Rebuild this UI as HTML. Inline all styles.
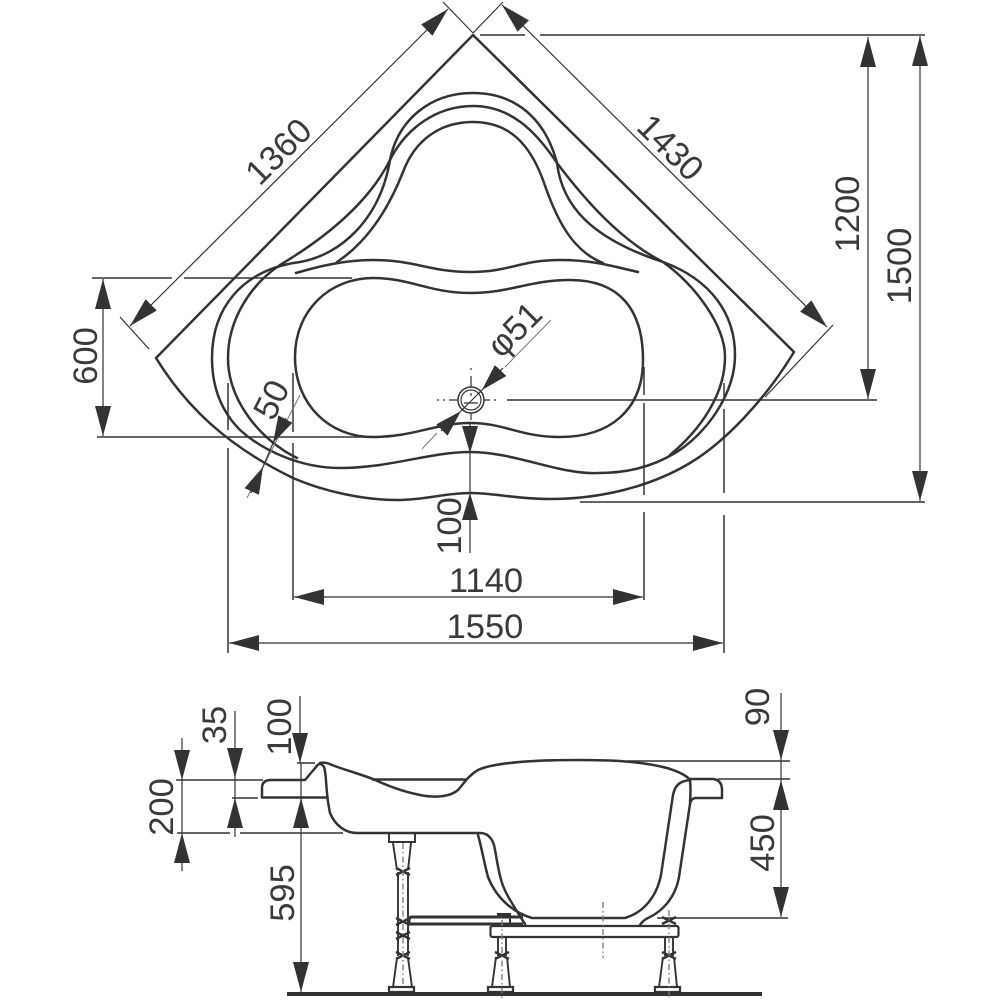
<!DOCTYPE html>
<html><head><meta charset="utf-8"><style>
html,body{margin:0;padding:0;background:#fff}
svg{display:block}
text{font-family:"Liberation Sans",sans-serif;font-size:34.5px;fill:#3a3a3a;text-anchor:middle;dominant-baseline:central}
.m{fill:none;stroke:#333;stroke-width:2.5;stroke-linecap:round;stroke-linejoin:round}
.d{fill:none;stroke:#333;stroke-width:1.2}
.e{fill:none;stroke:#333;stroke-width:1.5}
.l{fill:none;stroke:#333;stroke-width:1.9}
.x{fill:none;stroke:#333;stroke-width:2.4}
.t{fill:none;stroke:#777;stroke-width:1}
.c{fill:none;stroke:#777;stroke-width:1.3;stroke-dasharray:6 3 1.5 3}
</style></head><body>
<svg width="1000" height="1000" viewBox="0 0 1000 1000" xmlns="http://www.w3.org/2000/svg">
<defs>
<marker id="a" markerUnits="userSpaceOnUse" markerWidth="32" markerHeight="18" refX="30" refY="8" orient="auto-start-reverse"><path d="M0 0L30 8L0 16Z" fill="#333"/></marker>
<marker id="s" markerUnits="userSpaceOnUse" markerWidth="30" markerHeight="18" refX="27" refY="8" orient="auto-start-reverse"><path d="M0 0L27 8L0 16Z" fill="#333"/></marker>
</defs>

<!-- plan view -->
<path class="m" d="M156 358L473 35L794 352C765 400 725 442 690 463C650 487 600 499 550 499C515 499 495 493 470 493C445 493 425 500 397 500C365 500 325 492 293 478C225 445 185 405 156 358Z"/>
<path class="m" d="M390 160C398 120 430 93 473 93C515 93 545 118 557 163C562 205 590 238 663 262C712 280 735 315 735 355C735 395 705 435 675 453C650 468 625 473 598 473C560 475 515 452 470 452C430 452 390 468 340 468C300 468 262 450 240 430C220 410 212 385 212 358C212 310 240 270 300 262C340 255 380 220 390 160Z"/>
<path class="m" d="M297 458C260 440 228 400 228 358C228 320 250 285 280 265C330 235 370 200 390 160C405 130 435 106 473 106C510 106 535 130 557 163C585 200 620 240 663 262C695 285 725 325 725 357C725 395 700 430 670 455"/>
<path class="m" d="M337 262C370 240 390 205 403 172C415 140 440 122 473 122C510 122 530 145 543 180C555 215 570 250 603 263"/>
<path class="m" d="M296 273C320 266 345 260 373 260C415 260 430 272 470 272C510 272 520 260 560 260C595 260 615 267 638 272"/>
<path class="m" d="M470 293C430 293 410 278 373 278C330 278 295 310 295 357C295 405 330 437 372 437C415 437 435 423 470 423C505 423 520 437 560 437C610 437 643 410 643 360C643 310 620 280 570 280C530 280 510 293 470 293Z"/>

<!-- plan dimension lines -->
<path class="d" d="M443 2L473 33M503 2L473 33M120 317L149 349M765 397L833 325"/>
<line class="d" x1="448" y1="9" x2="130" y2="326" marker-start="url(#a)" marker-end="url(#a)"/>
<line class="d" x1="502" y1="5" x2="827" y2="327" marker-start="url(#a)" marker-end="url(#a)"/>
<path class="e" d="M480 35H525M540 35H925M507 400H877M580 502H925M92 278H172M184 278H352M97 437H365"/>
<path class="e" d="M228 383V430M228 448V653M293 373V432M293 443V600M644 367V395M644 403V495M644 512V600M724 383V400M724 409V493M724 515V653"/>
<line class="d" x1="868" y1="37" x2="868" y2="399" marker-start="url(#a)" marker-end="url(#a)"/>
<line class="d" x1="920" y1="36" x2="920" y2="501" marker-start="url(#a)" marker-end="url(#a)"/>
<line class="d" x1="103" y1="279" x2="103" y2="436" marker-start="url(#a)" marker-end="url(#a)"/>
<line class="d" x1="294" y1="597" x2="643" y2="597" marker-start="url(#a)" marker-end="url(#a)"/>
<line class="d" x1="229" y1="643" x2="723" y2="643" marker-start="url(#a)" marker-end="url(#a)"/>
<line class="d" x1="470" y1="423" x2="470" y2="453" marker-end="url(#s)"/>
<line class="d" x1="470" y1="553" x2="470" y2="493" marker-end="url(#s)"/>
<line class="d" x1="470" y1="453" x2="470" y2="493"/>
<!-- 50 -->
<line class="t" x1="300" y1="395" x2="247" y2="498"/>
<line class="d" x1="286" y1="418" x2="273" y2="443" marker-end="url(#s)"/>
<line class="d" x1="251" y1="493" x2="263" y2="467" marker-end="url(#s)"/>
<line class="d" x1="273" y1="443" x2="263" y2="467"/>
<!-- drain -->
<circle cx="471" cy="400" r="13" fill="none" stroke="#333" stroke-width="1.5"/>
<circle cx="471" cy="400" r="10" fill="none" stroke="#333" stroke-width="1.2"/>
<path class="d" d="M437 400H439M443 400H445M449 400H458M484 400H490M494 400H496M471 368V370M471 376V387M471 413V420M464 403H478M471 393V396"/>
<path class="t" d="M551 320L505 367M437 433L422 449"/>
<line class="d" x1="461" y1="411" x2="482" y2="390"/>
<line class="d" x1="503" y1="368" x2="482" y2="390" marker-end="url(#s)"/>
<line class="d" x1="441" y1="431" x2="461" y2="411" marker-end="url(#s)"/>

<text transform="translate(279 152) rotate(-45)">1360</text>
<text transform="translate(670 148) rotate(45)">1430</text>
<text transform="translate(848 214) rotate(-90)">1200</text>
<text transform="translate(900 266) rotate(-90)">1500</text>
<text transform="translate(86 356) rotate(-90)">600</text>
<text transform="translate(272 400) rotate(-63)">50</text>
<text transform="translate(515 330) rotate(-45)">φ51</text>
<text transform="translate(450 526) rotate(-90)">100</text>
<text x="486" y="581">1140</text>
<text x="485" y="627">1550</text>

<!-- side view -->
<path class="m" d="M320 763C324 762 328 763 332 765C345 770 360 774 373 779C390 787 405 792 420 795C435 798 450 797 458 790C465 782 468 776 478 770C495 762 540 760 577 760C610 760 640 761 667 768C680 772 687 776 690 780"/>
<path class="m" d="M373 779.5H465"/>
<path class="m" d="M327 797.5H262V788Q262 780 271 780H305L316 767Q320 761 324 767C327 775 325 790 330 813C335 825 345 833 357 833H480C490 833 494 842 495 850C497 860 498 870 502 883C506 895 515 908 525 924"/>
<path class="m" d="M690 780C680 781 675 785 673 795L661 875C657 895 645 912 625 918H532C515 913 497 900 488 877C484 862 481 845 478 835"/>
<path class="m" d="M690 779H713Q722 780 722 790V798H696Q691 798 690 804L679 877C675 900 660 912 650 917Q643 920 640 925"/>
<path class="m" d="M690 780Q691 790 690 802"/>
<path class="e" d="M176 780H263M232 798H258M177 833H230M240 833H343M297 763H315M627 761H790M718 779H790M657 918H788"/>
<line class="d" x1="182" y1="738" x2="182" y2="780" marker-end="url(#a)"/>
<line class="d" x1="182" y1="871" x2="182" y2="833" marker-end="url(#a)"/>
<line class="d" x1="182" y1="780" x2="182" y2="833"/>
<line class="d" x1="235" y1="711" x2="235" y2="778" marker-end="url(#a)"/>
<line class="d" x1="235" y1="837" x2="235" y2="798" marker-end="url(#a)"/>
<line class="d" x1="235" y1="778" x2="235" y2="798"/>
<line class="d" x1="300" y1="696" x2="300" y2="763" marker-end="url(#a)"/>
<line class="d" x1="301" y1="763" x2="301" y2="798"/>
<line class="d" x1="301" y1="798" x2="301" y2="992" marker-start="url(#a)" marker-end="url(#a)"/>
<line class="d" x1="781" y1="693" x2="781" y2="760" marker-end="url(#a)"/>
<line class="d" x1="781" y1="760" x2="781" y2="780"/>
<line class="d" x1="781" y1="780" x2="781" y2="917" marker-start="url(#a)" marker-end="url(#a)"/>
<text transform="translate(215 725) rotate(-90)">35</text>
<text transform="translate(280 727) rotate(-90)">100</text>
<text transform="translate(162 807) rotate(-90)">200</text>
<text transform="translate(283 893) rotate(-90)">595</text>
<text transform="translate(758 707) rotate(-90)">90</text>
<text transform="translate(763 843) rotate(-90)">450</text>

<!-- floor and frame -->
<rect x="287" y="992" width="475" height="4" fill="#333"/>
<rect x="490.5" y="926" width="188" height="11" rx="2" fill="#fff" stroke="#333" stroke-width="2.2"/>
<path d="M523 917H412Q409 917 409 920V924H523" fill="none" stroke="#333" stroke-width="3"/>
<rect x="497" y="913" width="13" height="5" fill="#333"/>
<path d="M510 913V924" stroke="#333" stroke-width="2"/>
<line class="c" x1="603" y1="902" x2="603" y2="958"/>

<!-- leg 1 -->
<path class="l" d="M389 834V842H415V834M393 843L397 870M411 843L408 870M398 872V956M408 872V956M397 958L393 987M408 958L412 987"/>
<rect x="389" y="987" width="25" height="5" fill="#fff" stroke="#333" stroke-width="2.2"/>
<path class="x" d="M396 868L410 875M410 868L396 875M396 918L410 925M410 918L396 925M396 932L410 939M410 932L396 939M396 952L410 959M410 952L396 959"/>
<line class="c" x1="403" y1="843" x2="403" y2="987"/>
<!-- leg 2 -->
<path class="l" d="M498 937V956M506 937V956M496 957L492 987M507 957L510 987"/>
<rect x="488" y="987" width="25" height="5" fill="#fff" stroke="#333" stroke-width="2.2"/>
<path class="x" d="M495 952L509 959M509 952L495 959"/>
<line class="c" x1="502" y1="920" x2="502" y2="998"/>
<!-- leg 3 -->
<path class="l" d="M665 937V956M673 937V956M663 957L659 987M674 957L677 987"/>
<rect x="655" y="987" width="25" height="5" fill="#fff" stroke="#333" stroke-width="2.2"/>
<path class="x" d="M662 952L676 959M676 952L662 959M662 917L676 924M676 917L662 924"/>
<line class="c" x1="669" y1="910" x2="669" y2="998"/>
</svg>
</body></html>
